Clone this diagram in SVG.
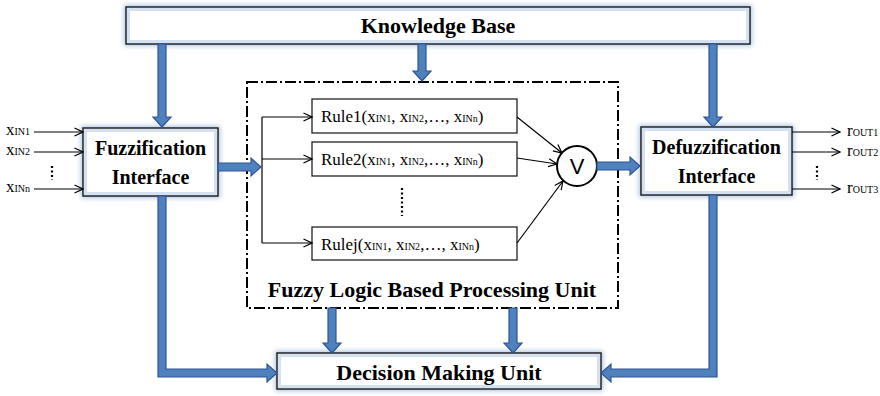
<svg xmlns="http://www.w3.org/2000/svg" width="880" height="396" viewBox="0 0 880 396">
<style>
.glow{fill:#A9C2E3;filter:url(#blur)}
.box{fill:#FFFFFF;stroke:#222222;stroke-width:1.5}
.inner{fill:none;stroke:#D3E1F3;stroke-width:3}
.title{font-family:"Liberation Serif","Times New Roman",serif;font-weight:bold;font-size:22px;fill:#000;text-anchor:middle}
.ifc{font-family:"Liberation Serif","Times New Roman",serif;font-weight:bold;font-size:20px;fill:#000;text-anchor:middle}
.rule{font-family:"Liberation Serif","Times New Roman",serif;font-size:17px;fill:#000}
.sub{font-size:10px}
.rbox{fill:#FFFFFF;stroke:#222222;stroke-width:1.3}
.thin{fill:none;stroke:#000;stroke-width:1.2}
.big{fill:#4F81BD;stroke:#2F5597;stroke-width:1.2;stroke-linejoin:miter}
.dots{stroke:#000;stroke-width:2.2;stroke-dasharray:2 2.5;fill:none}
</style>
<defs>
<filter id="blur" x="-10%" y="-30%" width="120%" height="160%"><feGaussianBlur stdDeviation="2.5"/></filter>
<marker id="oa" viewBox="0 0 10 10" refX="9.5" refY="5" markerWidth="10" markerHeight="10" markerUnits="userSpaceOnUse" orient="auto">
<path d="M1,1 L9.5,5 L1,9" fill="none" stroke="#000" stroke-width="1.2"/>
</marker>
</defs>

<g id="knowledge-base">
<rect class="glow" x="124" y="5" width="628" height="41"/>
<rect class="box" x="126" y="7" width="624" height="37"/>
<rect class="inner" x="128.5" y="9.5" width="619" height="32"/>
<text class="title" x="438" y="33">Knowledge Base</text>
</g>

<g id="fuzzification">
<rect class="glow" x="81" y="126" width="139" height="72"/>
<rect class="box" x="83" y="128" width="135" height="68"/>
<rect class="inner" x="85.5" y="130.5" width="130" height="63"/>
<text class="ifc" x="150.5" y="155">Fuzzification</text>
<text class="ifc" x="150.5" y="184">Interface</text>
</g>

<g id="defuzzification">
<rect class="glow" x="639" y="125" width="155" height="72"/>
<rect class="box" x="641" y="127" width="151" height="68"/>
<rect class="inner" x="643.5" y="129.5" width="146" height="63"/>
<text class="ifc" x="716.5" y="154">Defuzzification</text>
<text class="ifc" x="716.5" y="183">Interface</text>
</g>

<g id="decision-making">
<rect class="glow" x="275" y="351" width="328" height="40"/>
<rect class="box" x="277" y="353" width="324" height="36"/>
<rect class="inner" x="279.5" y="355.5" width="319" height="31"/>
<text class="title" x="439" y="380">Decision Making Unit</text>
</g>

<g id="processing-unit">
<rect x="247" y="82" width="371" height="226" fill="none" stroke="#000" stroke-width="2" stroke-dasharray="11 3 2 3"/>
<text class="title" x="432" y="297">Fuzzy Logic Based Processing Unit</text>
</g>

<g id="rule1">
<rect class="rbox" x="312" y="99" width="205" height="34"/>
<text class="rule" x="321" y="122">Rule1(x<tspan class="sub">IN1</tspan>, x<tspan class="sub">IN2</tspan>,…, x<tspan class="sub">INn</tspan>)</text>
</g>
<g id="rule2">
<rect class="rbox" x="312" y="142" width="205" height="34"/>
<text class="rule" x="321" y="165">Rule2(x<tspan class="sub">IN1</tspan>, x<tspan class="sub">IN2</tspan>,…, x<tspan class="sub">INn</tspan>)</text>
</g>
<g id="rulej">
<rect class="rbox" x="312" y="227" width="205" height="33"/>
<text class="rule" x="321" y="250">Rulej(x<tspan class="sub">IN1</tspan>, x<tspan class="sub">IN2</tspan>,…, x<tspan class="sub">INn</tspan>)</text>
</g>

<g id="or-node">
<circle cx="577" cy="166" r="20" fill="#FFFFFF" stroke="#000" stroke-width="2"/>
<text x="577" y="174" font-family="Liberation Sans, Arial, sans-serif" font-size="22" text-anchor="middle">V</text>
</g>

<g id="inputs">
<text class="rule" x="6" y="135">x<tspan class="sub">IN1</tspan></text>
<text class="rule" x="6" y="155">x<tspan class="sub">IN2</tspan></text>
<text class="rule" x="6" y="192">x<tspan class="sub">INn</tspan></text>
</g>

<g id="outputs">
<text class="rule" x="847" y="136">r<tspan class="sub">OUT1</tspan></text>
<text class="rule" x="847" y="156">r<tspan class="sub">OUT2</tspan></text>
<text class="rule" x="847" y="193">r<tspan class="sub">OUT3</tspan></text>
</g>

<g id="connectors">
<line class="thin" x1="34" y1="132" x2="83" y2="132" marker-end="url(#oa)"/>
<line class="thin" x1="34" y1="152" x2="83" y2="152" marker-end="url(#oa)"/>
<line class="thin" x1="34" y1="189" x2="83" y2="189" marker-end="url(#oa)"/>
<line class="dots" x1="52" y1="166" x2="52" y2="180"/>

<line class="thin" x1="792" y1="132" x2="840" y2="132" marker-end="url(#oa)"/>
<line class="thin" x1="792" y1="152" x2="840" y2="152" marker-end="url(#oa)"/>
<line class="thin" x1="792" y1="189" x2="840" y2="189" marker-end="url(#oa)"/>
<line class="dots" x1="817" y1="166" x2="817" y2="180"/>

<polyline class="thin" points="262,117 262,243"/>
<line class="thin" x1="262" y1="117" x2="312" y2="117" marker-end="url(#oa)"/>
<line class="thin" x1="262" y1="159" x2="312" y2="159" marker-end="url(#oa)"/>
<line class="thin" x1="262" y1="243" x2="312" y2="243" marker-end="url(#oa)"/>
<line class="dots" x1="402" y1="188" x2="402" y2="216"/>

<line class="thin" x1="517" y1="117" x2="562" y2="153" marker-end="url(#oa)"/>
<line class="thin" x1="517" y1="158" x2="557" y2="164" marker-end="url(#oa)"/>
<line class="thin" x1="517" y1="243" x2="563" y2="181" marker-end="url(#oa)"/>

<polygon class="big" points="158,44 166,44 166,117 171,117 162,127 153,117 158,117"/>
<polygon class="big" points="418,44 426,44 426,71 431,71 422,81 413,71 418,71"/>
<polygon class="big" points="709,44 717,44 717,117 722,117 713,127 704,117 709,117"/>
<polygon class="big" points="218,163 251,163 251,158 261,167 251,176 251,171 218,171"/>
<polygon class="big" points="597,162 630,162 630,157 640,166 630,175 630,170 597,170"/>
<polygon class="big" points="158,196 166,196 166,369 267,369 267,364 277,373 267,382 267,377 158,377"/>
<polygon class="big" points="709,195 717,195 717,377 611,377 611,382 601,373 611,364 611,369 709,369"/>
<polygon class="big" points="328,308 336,308 336,343 341,343 332,353 323,343 328,343"/>
<polygon class="big" points="509,308 517,308 517,343 522,343 513,353 504,343 509,343"/>
</g>
</svg>
